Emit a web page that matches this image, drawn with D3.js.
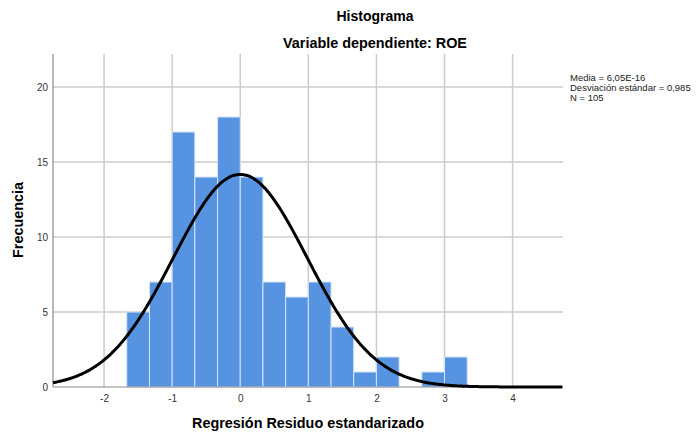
<!DOCTYPE html>
<html>
<head>
<meta charset="utf-8">
<script src="https://cdnjs.cloudflare.com/ajax/libs/d3/7.8.5/d3.min.js"></script>
<style>
  body { margin: 0; background: #fff; }
  text { font-family: "Liberation Sans", Arial, sans-serif; }
</style>
</head>
<body>
<div id="chart"></div>
<script>
// histogram bins (lower edges, width 1/3) and counts
var bin_edges = [-5/3, -4/3, -1, -2/3, -1/3, 0, 1/3, 2/3, 1, 4/3, 5/3, 2, 7/3, 8/3, 3]
var bin_counts = [5, 7, 17, 14, 18, 14, 7, 6, 7, 4, 1, 2, 0, 1, 2]
var bin_width = 1/3
var x_ticks = [-2, -1, 0, 1, 2, 3, 4]
var y_ticks = [0, 5, 10, 15, 20]
// stats shown in the legend
var media = 6.05e-16
var desv = 0.985
var n = 105
var legend_lines = ["Media = 6,05E-16", "Desviación estándar = 0,985", "N = 105"]

var width = 697, height = 439
var margin = {top: 54, right: 134, bottom: 52, left: 53}

var svg = d3.select("#chart").append("svg")
    .attr("width", width)
    .attr("height", height)

var x = d3.scaleLinear().domain([-2.75, 4.74]).range([margin.left, width - margin.right])
var y = d3.scaleLinear().domain([0, 22.2]).range([height - margin.bottom, margin.top])

// gridlines
svg.append("g").selectAll("line.vg")
  .data(x_ticks).enter().append("line")
  .attr("x1", d => x(d)).attr("x2", d => x(d))
  .attr("y1", y.range()[1]).attr("y2", y(0))
  .attr("stroke", "#cccccc").attr("stroke-width", 1.5)

svg.append("g").selectAll("line.hg")
  .data(y_ticks.slice(1)).enter().append("line")
  .attr("x1", x.range()[0]).attr("x2", x.range()[1])
  .attr("y1", d => y(d)).attr("y2", d => y(d))
  .attr("stroke", "#cccccc").attr("stroke-width", 1.5)

// bars
svg.append("g").selectAll("rect")
  .data(bin_edges.map((e, i) => ({x0: e, x1: e + bin_width, c: bin_counts[i]})).filter(d => d.c > 0))
  .enter().append("rect")
  .attr("x", d => x(d.x0))
  .attr("width", d => x(d.x1) - x(d.x0))
  .attr("y", d => y(d.c))
  .attr("height", d => y(0) - y(d.c))
  .attr("fill", "#5694e2")
  .attr("stroke", "#d6e4f7")
  .attr("stroke-width", 1)

// axes (plain hyphen for negatives, like the original)
var xAxis = svg.append("g")
  .attr("transform", "translate(0," + y(0) + ")")
  .call(d3.axisBottom(x).tickValues(x_ticks).tickFormat(d => String(d)).tickSize(0).tickPadding(8))
var yAxis = svg.append("g")
  .attr("transform", "translate(" + x.range()[0] + ",0)")
  .call(d3.axisLeft(y).tickValues(y_ticks).tickFormat(d => String(d)).tickSize(0).tickPadding(5))

;[xAxis, yAxis].forEach(function(a){
  a.select(".domain").attr("stroke", "#8a8a8a").attr("stroke-width", 1.2)
  a.selectAll("text").attr("fill", "#333").style("font-size", "10px")
    .style("font-family", "'Liberation Sans', Arial, sans-serif")
})
xAxis.select(".domain").attr("d", "M" + x.range()[0] + ",0H" + x.range()[1])
yAxis.select(".domain").attr("d", "M0," + y.range()[1] + "V" + y.range()[0])

// normal curve from media / desv / n
var curve_x = d3.range(-2.75, 4.74 + 0.001, 0.02)
var curve = curve_x.map(function(v){
  var z = (v - media) / desv
  return {x: v, y: n * bin_width * Math.exp(-0.5 * z * z) / (desv * Math.sqrt(2 * Math.PI))}
})
var line = d3.line().x(d => x(d.x)).y(d => y(d.y)).curve(d3.curveBasis)
svg.append("path")
  .attr("d", line(curve))
  .attr("fill", "none")
  .attr("stroke", "#000")
  .attr("stroke-width", 3)

// titles
svg.append("text").attr("x", 375).attr("y", 21)
  .attr("text-anchor", "middle").style("font-size", "14px").style("font-weight", "bold")
  .text("Histograma")
svg.append("text").attr("x", 375).attr("y", 48)
  .attr("text-anchor", "middle").style("font-size", "14.4px").style("font-weight", "bold")
  .text("Variable dependiente: ROE")

svg.append("text")
  .attr("transform", "translate(23,220) rotate(-90)")
  .attr("text-anchor", "middle").style("font-size", "14.4px").style("font-weight", "bold")
  .text("Frecuencia")
svg.append("text").attr("x", 308).attr("y", 428)
  .attr("text-anchor", "middle").style("font-size", "14.4px").style("font-weight", "bold")
  .text("Regresión Residuo estandarizado")

// legend
svg.append("g").selectAll("text")
  .data(legend_lines).enter().append("text")
  .attr("x", 570).attr("y", (d, i) => 81 + i * 10)
  .style("font-size", "9.5px").attr("fill", "#222")
  .text(d => d)
</script>
</body>
</html>
